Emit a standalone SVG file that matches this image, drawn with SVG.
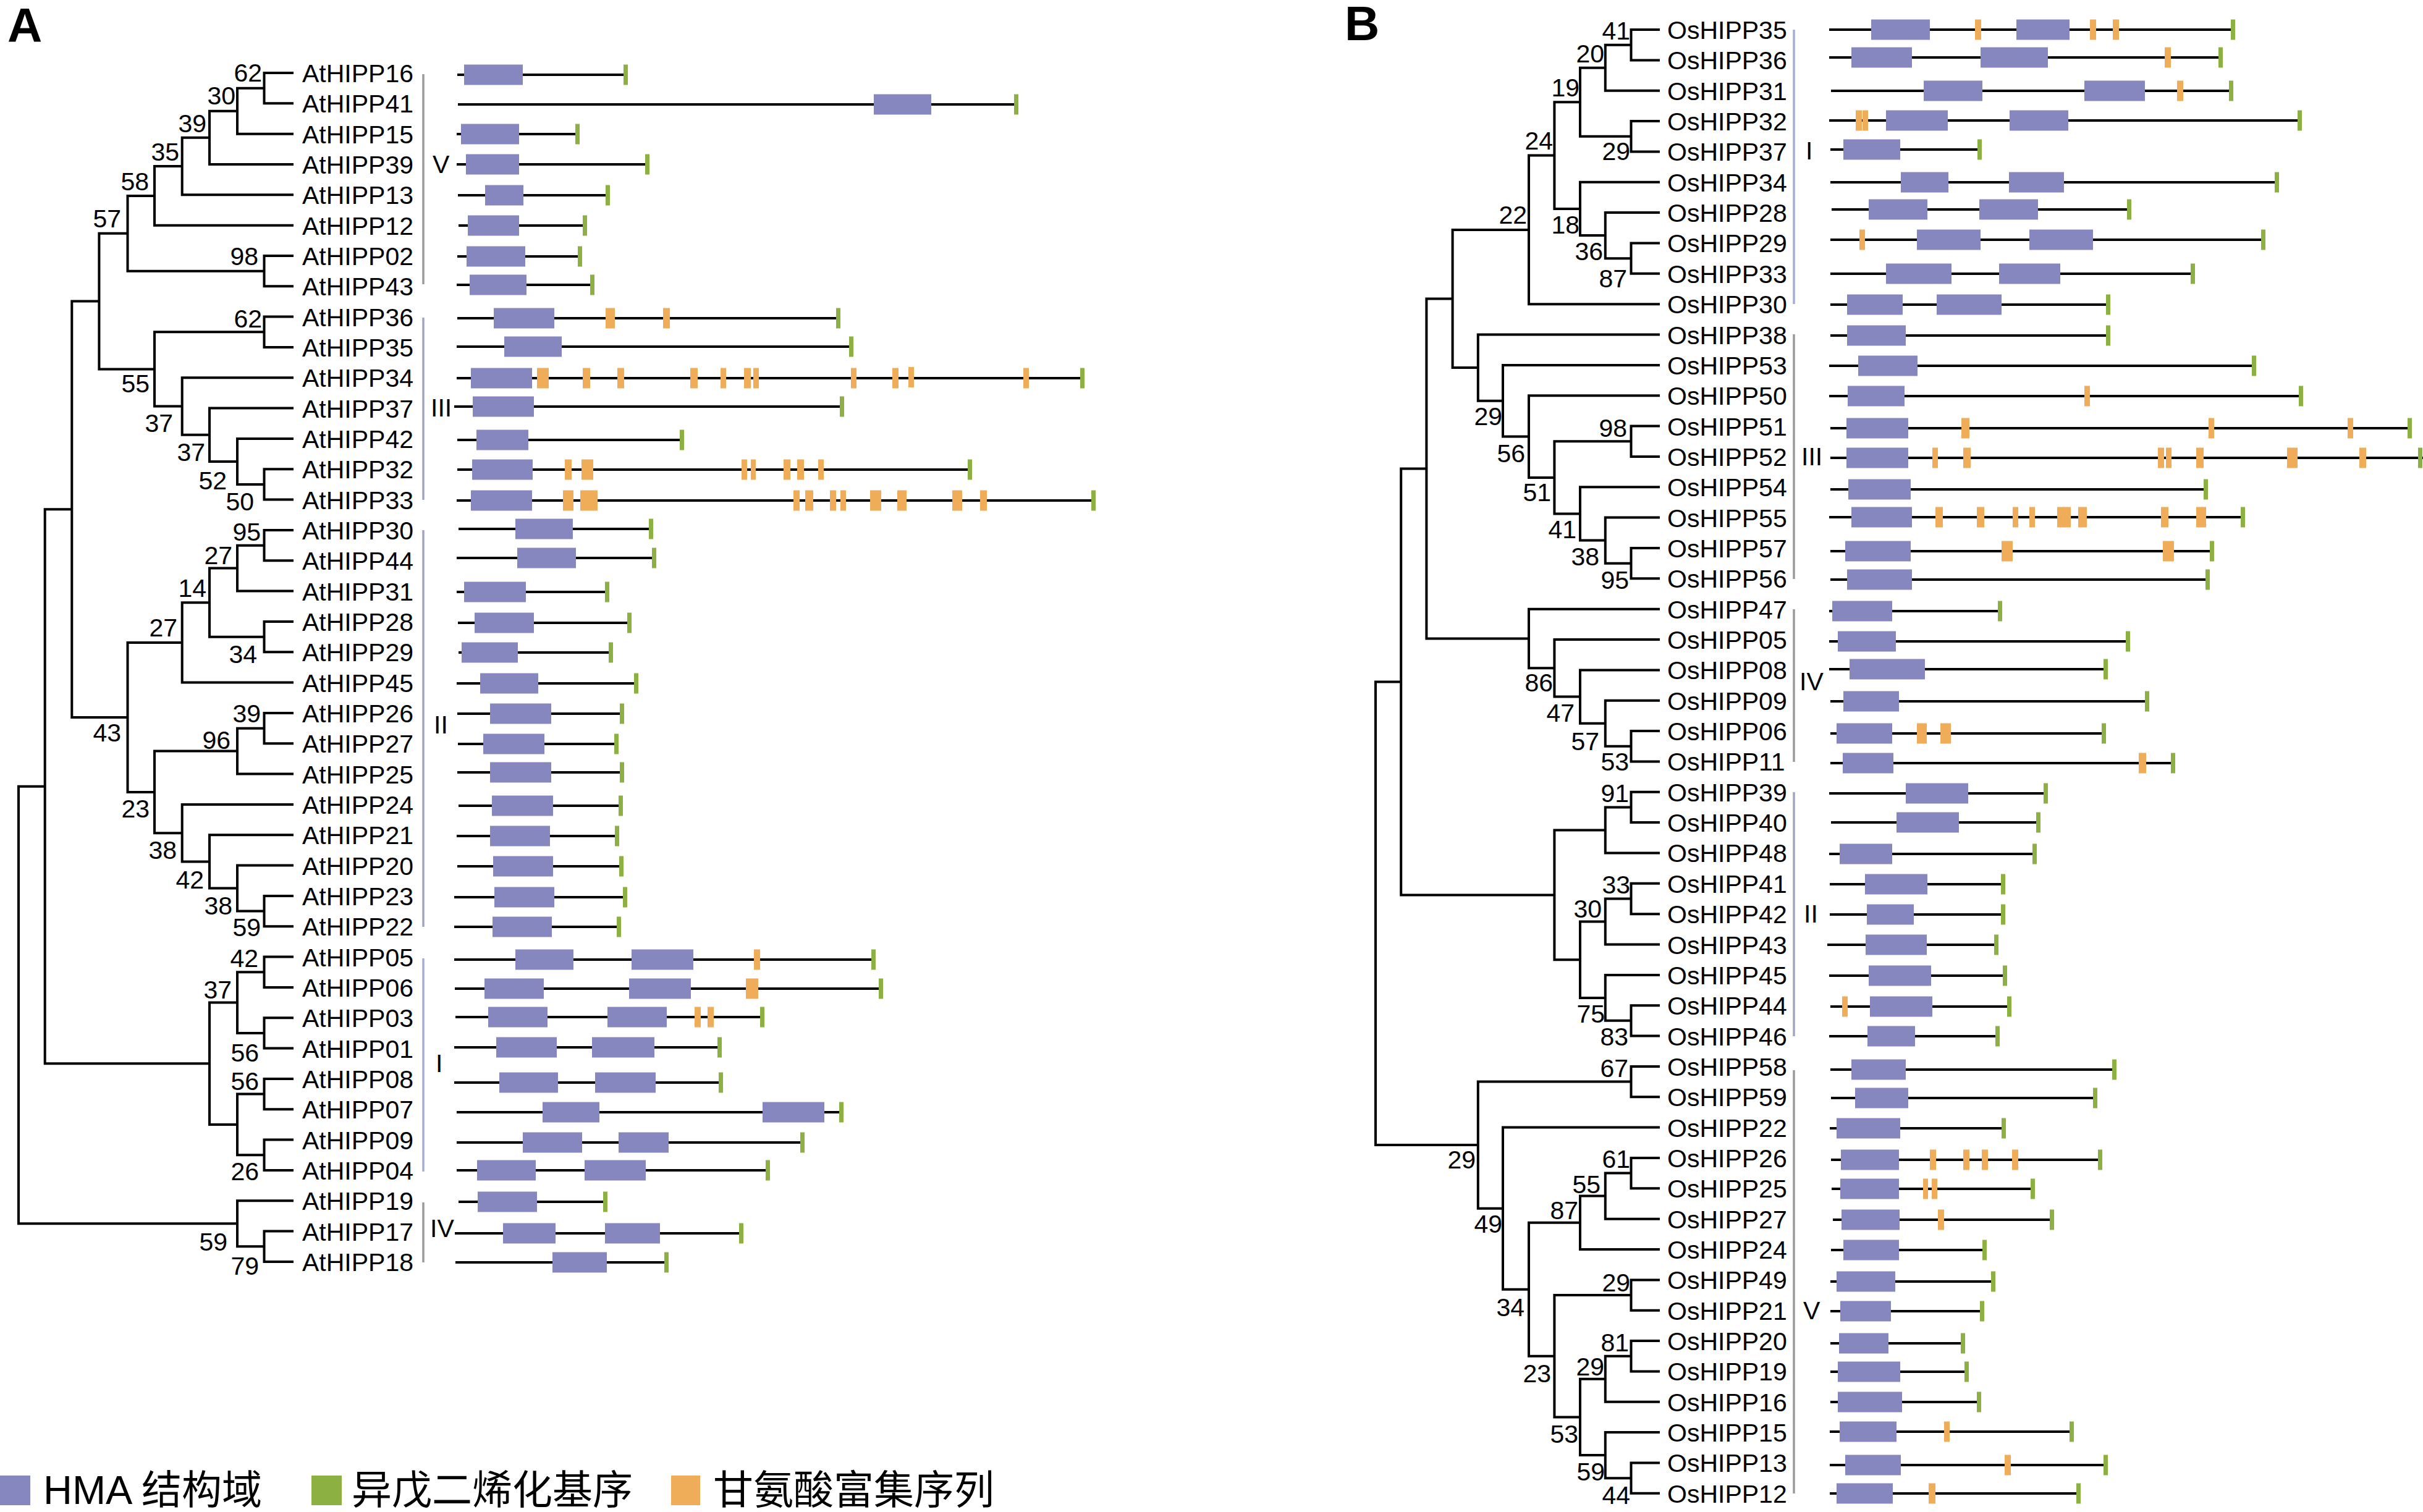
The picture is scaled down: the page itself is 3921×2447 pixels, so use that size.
<svg xmlns="http://www.w3.org/2000/svg" width="3921" height="2447" viewBox="0 0 3921 2447">
<style>
text{font-family:"Liberation Sans",Arial,"Noto Sans CJK SC",sans-serif;fill:#000}
.t{font-size:41px}
.b{font-size:41px;text-anchor:end}
.p{font-size:78px;font-weight:bold}
.lg{font-size:65px}
.br{fill:none;stroke:#000;stroke-width:4;stroke-linecap:square}
.l{fill:none;stroke:#000;stroke-width:4}
.h{fill:#8787bf}
.g{fill:#8db043}
.o{fill:#efac59}
.cg{stroke:#9a9a9e;stroke-width:3.5}
.cb{stroke:#a4acdc;stroke-width:3.5}
.cl{stroke:#a2a4c4;stroke-width:3.5}
</style>
<rect width="3921" height="2447" fill="#fff"/>
<text class="p" x="12" y="68">A</text>
<text class="p" x="2176" y="65">B</text>

<g id="connectors">
<path class="br" d="M473,118H427.5V167.3H473M427.5,142.7H384V216.7H473M384,179.7H339V266H473M339,222.8H294.7V315.3H473M294.7,269H250V364.7H473M473,414H427.5V463.3H473M250,316.9H206.5V438.7H427.5M473,512.6H427.5V562H473M473,759.3H427.5V808.6H473M473,710H384V784H427.5M473,660.6H339V747H384M473,611.3H294.7V703.8H339M427.5,537.3H250V657.6H294.7M206.5,377.8H160.4V597.4H250M473,858H427.5V907.3H473M427.5,882.7H384V956.6H473M473,1006H427.5V1055.3H473M384,919.6H339V1030.7H427.5M339,975.2H294.7V1104.6H473M473,1154H427.5V1203.3H473M427.5,1178.7H384V1252.6H473M473,1450H427.5V1499.2H473M473,1400.6H384V1474.6H427.5M473,1351.3H339V1437.6H384M473,1302H294.7V1394.5H339M384,1215.6H250V1348.2H294.7M294.7,1039.9H206.5V1281.9H250M160.4,487.6H116.3V1160.9H206.5M473,1548.6H427.5V1598H473M473,1647.2H427.5V1696.6H473M427.5,1573.3H384V1671.9H427.5M473,1746H427.5V1795.2H473M473,1844.6H427.5V1894H473M427.5,1770.6H384V1869.3H427.5M384,1622.6H339V1820H384M116.3,824.2H72.7V1721.3H339M473,1992.6H427.5V2042H473M473,1943.2H384V2017.3H427.5M72.7,1272.7H30V1980.2H384"/>
<path class="br" d="M2684,48H2639.5V97.4H2684M2639.5,72.7H2597.8V146.7H2684M2684,196H2639.5V245.4H2684M2597.8,109.7H2557V220.7H2639.5M2684,393.5H2639.5V442.8H2684M2684,344.1H2597.8V418.2H2639.5M2684,294.8H2557V381.1H2597.8M2557,165.2H2515.4V337.9H2557M2515.4,251.6H2474V492.2H2684M2684,689.6H2639.5V738.9H2684M2684,887H2639.5V936.3H2684M2684,837.6H2597.8V911.7H2639.5M2684,788.3H2557V874.6H2597.8M2639.5,714.3H2515.4V831.5H2557M2684,640.2H2474V772.9H2515.4M2684,590.9H2432V706.5H2474M2684,541.5H2391.8V648.7H2432M2474,371.9H2350.6V595.1H2391.8M2684,1183H2639.5V1232.4H2684M2684,1133.7H2597.8V1207.7H2639.5M2684,1084.4H2557V1170.7H2597.8M2684,1035H2515.4V1127.6H2557M2684,985.7H2474V1081.3H2515.4M2350.6,483.5H2308.4V1033.5H2474M2684,1281.8H2639.5V1331.1H2684M2639.5,1306.4H2597.8V1380.5H2684M2684,1429.8H2639.5V1479.2H2684M2639.5,1454.5H2597.8V1528.5H2684M2684,1627.2H2639.5V1676.6H2684M2684,1577.9H2597.8V1651.8H2639.5M2597.8,1491.5H2557V1614.9H2597.8M2597.8,1343.5H2515.4V1553.2H2557M2308.4,758.5H2267.2V1448.4H2515.4M2684,1725.9H2639.5V1775.3H2684M2684,1874H2639.5V1923.3H2684M2639.5,1898.5H2597.8V1972.7H2684M2597.8,1935.6H2557V2022H2684M2684,2071.4H2639.5V2120.7H2684M2684,2170.1H2639.5V2219.4H2684M2639.5,2194.7H2597.8V2268.8H2684M2684,2367.5H2639.5V2416.8H2684M2684,2318.1H2597.8V2392.2H2639.5M2597.8,2231.8H2557V2355.1H2597.8M2639.5,2095.9H2515.4V2293.5H2557M2557,1978.8H2474V2194.7H2515.4M2684,1824.6H2432V2086.8H2474M2639.5,1750.5H2391.8V1955.7H2432M2267.2,1103.5H2226V1853.1H2391.8"/>
</g>

<g id="bootstrap">
<text class="b" x="424" y="132">62</text><text class="b" x="381" y="169">30</text><text class="b" x="334" y="214">39</text><text class="b" x="290" y="260">35</text><text class="b" x="241" y="308">58</text><text class="b" x="196" y="368">57</text><text class="b" x="418" y="429">98</text><text class="b" x="424" y="530">62</text><text class="b" x="242" y="635">55</text><text class="b" x="280" y="699">37</text><text class="b" x="332" y="746">37</text><text class="b" x="367" y="792">52</text><text class="b" x="411" y="826">50</text>
<text class="b" x="422" y="875">95</text><text class="b" x="376" y="913">27</text><text class="b" x="334" y="966">14</text><text class="b" x="287" y="1030">27</text><text class="b" x="416" y="1073">34</text><text class="b" x="422" y="1169">39</text><text class="b" x="373" y="1212">96</text><text class="b" x="196" y="1200">43</text><text class="b" x="242" y="1323">23</text><text class="b" x="286" y="1390">38</text><text class="b" x="330" y="1438">42</text><text class="b" x="376" y="1480">38</text><text class="b" x="422" y="1515">59</text>
<text class="b" x="418" y="1565">42</text><text class="b" x="375" y="1616">37</text><text class="b" x="419" y="1718">56</text><text class="b" x="419" y="1764">56</text><text class="b" x="419" y="1910">26</text><text class="b" x="368" y="2024">59</text><text class="b" x="419" y="2063">79</text>
<text class="b" x="2638" y="64">41</text><text class="b" x="2596" y="101">20</text><text class="b" x="2556" y="156">19</text><text class="b" x="2513" y="242">24</text><text class="b" x="2638" y="259">29</text><text class="b" x="2471" y="362">22</text><text class="b" x="2556" y="378">18</text><text class="b" x="2594" y="421">36</text><text class="b" x="2633" y="465">87</text>
<text class="b" x="2431" y="688">29</text><text class="b" x="2633" y="707">98</text><text class="b" x="2468" y="748">56</text><text class="b" x="2510" y="811">51</text><text class="b" x="2551" y="871">41</text><text class="b" x="2588" y="915">38</text><text class="b" x="2636" y="953">95</text>
<text class="b" x="2513" y="1119">86</text><text class="b" x="2548" y="1168">47</text><text class="b" x="2588" y="1214">57</text><text class="b" x="2636" y="1247">53</text><text class="b" x="2636" y="1298">91</text><text class="b" x="2638" y="1446">33</text><text class="b" x="2592" y="1485">30</text><text class="b" x="2597" y="1655">75</text><text class="b" x="2635" y="1692">83</text>
<text class="b" x="2635" y="1743">67</text><text class="b" x="2388" y="1891">29</text><text class="b" x="2638" y="1890">61</text><text class="b" x="2590" y="1931">55</text><text class="b" x="2554" y="1973">87</text><text class="b" x="2431" y="1995">49</text><text class="b" x="2638" y="2090">29</text><text class="b" x="2467" y="2130">34</text><text class="b" x="2636" y="2187">81</text><text class="b" x="2596" y="2226">29</text><text class="b" x="2510" y="2237">23</text><text class="b" x="2554" y="2335">53</text><text class="b" x="2597" y="2396">59</text><text class="b" x="2638" y="2434">44</text>
</g>

<g id="clades">
<line class="cg" x1="685" y1="120" x2="685" y2="460"/><text class="t" x="700" y="280">V</text>
<line class="cl" x1="685" y1="514" x2="685" y2="809"/><text class="t" x="697" y="674">III</text>
<line class="cl" x1="685" y1="858" x2="685" y2="1500"/><text class="t" x="702" y="1187">II</text>
<line class="cb" x1="685" y1="1551" x2="685" y2="1896"/><text class="t" x="705" y="1735">I</text>
<line class="cg" x1="685" y1="1946" x2="685" y2="2043"/><text class="t" x="696" y="2002">IV</text>
<line class="cb" x1="2903" y1="48" x2="2903" y2="492"/><text class="t" x="2922" y="258">I</text>
<line class="cg" x1="2903" y1="541" x2="2903" y2="937"/><text class="t" x="2915" y="753">III</text>
<line class="cg" x1="2903" y1="986" x2="2903" y2="1233"/><text class="t" x="2912" y="1117">IV</text>
<line class="cl" x1="2903" y1="1282" x2="2903" y2="1677"/><text class="t" x="2919" y="1493">II</text>
<line class="cg" x1="2903" y1="1732" x2="2903" y2="2417"/><text class="t" x="2918" y="2135">V</text>
</g>

<g id="AtHIPP16"><text class="t" x="489" y="133">AtHIPP16</text><g transform="translate(0,121)"><path class="l" d="M740 0H1012"/><rect class="h" x="751" y="-16.5" width="95" height="33"/><rect class="g" x="1009" y="-16.5" width="7" height="33"/></g></g>
<g id="AtHIPP41"><text class="t" x="489" y="182">AtHIPP41</text><g transform="translate(0,169)"><path class="l" d="M741 0H1645"/><rect class="h" x="1414" y="-16.5" width="93" height="33"/><rect class="g" x="1641" y="-16.5" width="7" height="33"/></g></g>
<g id="AtHIPP15"><text class="t" x="489" y="232">AtHIPP15</text><g transform="translate(0,217)"><path class="l" d="M739 0H935"/><rect class="h" x="746" y="-16.5" width="94" height="33"/><rect class="g" x="931" y="-16.5" width="7" height="33"/></g></g>
<g id="AtHIPP39"><text class="t" x="489" y="281">AtHIPP39</text><g transform="translate(0,266)"><path class="l" d="M739 0H1047"/><rect class="h" x="754" y="-16.5" width="86" height="33"/><rect class="g" x="1044" y="-16.5" width="7" height="33"/></g></g>
<g id="AtHIPP13"><text class="t" x="489" y="330">AtHIPP13</text><g transform="translate(0,316)"><path class="l" d="M741 0H984"/><rect class="h" x="785" y="-16.5" width="62" height="33"/><rect class="g" x="980" y="-16.5" width="7" height="33"/></g></g>
<g id="AtHIPP12"><text class="t" x="489" y="380">AtHIPP12</text><g transform="translate(0,365)"><path class="l" d="M742 0H947"/><rect class="h" x="757" y="-16.5" width="83" height="33"/><rect class="g" x="943" y="-16.5" width="7" height="33"/></g></g>
<g id="AtHIPP02"><text class="t" x="489" y="429">AtHIPP02</text><g transform="translate(0,415)"><path class="l" d="M740 0H938"/><rect class="h" x="755" y="-16.5" width="95" height="33"/><rect class="g" x="935" y="-16.5" width="7" height="33"/></g></g>
<g id="AtHIPP43"><text class="t" x="489" y="478">AtHIPP43</text><g transform="translate(0,461)"><path class="l" d="M739 0H958"/><rect class="h" x="760" y="-16.5" width="92" height="33"/><rect class="g" x="955" y="-16.5" width="7" height="33"/></g></g>
<g id="AtHIPP36"><text class="t" x="489" y="528">AtHIPP36</text><g transform="translate(0,515)"><path class="l" d="M740 0H1356"/><rect class="h" x="799" y="-16.5" width="98" height="33"/><rect class="o" x="980" y="-16.5" width="15" height="33"/><rect class="o" x="1073" y="-16.5" width="11" height="33"/><rect class="g" x="1353" y="-16.5" width="7" height="33"/></g></g>
<g id="AtHIPP35"><text class="t" x="489" y="577">AtHIPP35</text><g transform="translate(0,561)"><path class="l" d="M739 0H1378"/><rect class="h" x="816" y="-16.5" width="93" height="33"/><rect class="g" x="1374" y="-16.5" width="7" height="33"/></g></g>
<g id="AtHIPP34"><text class="t" x="489" y="626">AtHIPP34</text><g transform="translate(0,612)"><path class="l" d="M739 0H1752"/><rect class="h" x="762" y="-16.5" width="99" height="33"/><rect class="o" x="869" y="-16.5" width="19" height="33"/><rect class="o" x="943" y="-16.5" width="12" height="33"/><rect class="o" x="999" y="-16.5" width="11" height="33"/><rect class="o" x="1117" y="-16.5" width="12" height="33"/><rect class="o" x="1166" y="-16.5" width="9" height="33"/><rect class="o" x="1204" y="-16.5" width="11" height="33"/><rect class="o" x="1219" y="-16.5" width="9" height="33"/><rect class="o" x="1377" y="-16.5" width="9" height="33"/><rect class="o" x="1444" y="-16.5" width="10" height="33"/><rect class="o" x="1470" y="-18" width="9" height="33"/><rect class="o" x="1656" y="-16.5" width="9" height="33"/><rect class="g" x="1748" y="-16.5" width="7" height="33"/></g></g>
<g id="AtHIPP37"><text class="t" x="489" y="676">AtHIPP37</text><g transform="translate(0,658)"><path class="l" d="M735 0H1363"/><rect class="h" x="765" y="-16.5" width="99" height="33"/><rect class="g" x="1359" y="-16.5" width="7" height="33"/></g></g>
<g id="AtHIPP42"><text class="t" x="489" y="725">AtHIPP42</text><g transform="translate(0,712)"><path class="l" d="M740 0H1104"/><rect class="h" x="771" y="-16.5" width="84" height="33"/><rect class="g" x="1100" y="-16.5" width="7" height="33"/></g></g>
<g id="AtHIPP32"><text class="t" x="489" y="774">AtHIPP32</text><g transform="translate(0,760)"><path class="l" d="M740 0H1569"/><rect class="h" x="764" y="-16.5" width="98" height="33"/><rect class="o" x="914" y="-16.5" width="11" height="33"/><rect class="o" x="941" y="-16.5" width="19" height="33"/><rect class="o" x="1200" y="-16.5" width="9" height="33"/><rect class="o" x="1215" y="-16.5" width="8" height="33"/><rect class="o" x="1268" y="-16.5" width="11" height="33"/><rect class="o" x="1290" y="-16.5" width="11" height="33"/><rect class="o" x="1324" y="-16.5" width="9" height="33"/><rect class="g" x="1566" y="-16.5" width="7" height="33"/></g></g>
<g id="AtHIPP33"><text class="t" x="489" y="824">AtHIPP33</text><g transform="translate(0,810)"><path class="l" d="M739 0H1769"/><rect class="h" x="762" y="-16.5" width="99" height="33"/><rect class="o" x="911" y="-16.5" width="17" height="33"/><rect class="o" x="939" y="-16.5" width="28" height="33"/><rect class="o" x="1284" y="-16.5" width="10" height="33"/><rect class="o" x="1303" y="-16.5" width="13" height="33"/><rect class="o" x="1343" y="-16.5" width="10" height="33"/><rect class="o" x="1360" y="-16.5" width="9" height="33"/><rect class="o" x="1408" y="-16.5" width="18" height="33"/><rect class="o" x="1452" y="-16.5" width="15" height="33"/><rect class="o" x="1541" y="-16.5" width="16" height="33"/><rect class="o" x="1586" y="-16.5" width="11" height="33"/><rect class="g" x="1766" y="-16.5" width="7" height="33"/></g></g>
<g id="AtHIPP30"><text class="t" x="489" y="873">AtHIPP30</text><g transform="translate(0,856)"><path class="l" d="M742 0H1054"/><rect class="h" x="834" y="-16.5" width="93" height="33"/><rect class="g" x="1050" y="-16.5" width="7" height="33"/></g></g>
<g id="AtHIPP44"><text class="t" x="489" y="922">AtHIPP44</text><g transform="translate(0,903)"><path class="l" d="M739 0H1059"/><rect class="h" x="837" y="-16.5" width="95" height="33"/><rect class="g" x="1055" y="-16.5" width="7" height="33"/></g></g>
<g id="AtHIPP31"><text class="t" x="489" y="972">AtHIPP31</text><g transform="translate(0,958)"><path class="l" d="M739 0H983"/><rect class="h" x="751" y="-16.5" width="100" height="33"/><rect class="g" x="979" y="-16.5" width="7" height="33"/></g></g>
<g id="AtHIPP28"><text class="t" x="489" y="1021">AtHIPP28</text><g transform="translate(0,1008)"><path class="l" d="M741 0H1019"/><rect class="h" x="768" y="-16.5" width="96" height="33"/><rect class="g" x="1015" y="-16.5" width="7" height="33"/></g></g>
<g id="AtHIPP29"><text class="t" x="489" y="1070">AtHIPP29</text><g transform="translate(0,1056)"><path class="l" d="M742 0H988"/><rect class="h" x="747" y="-16.5" width="91" height="33"/><rect class="g" x="985" y="-16.5" width="7" height="33"/></g></g>
<g id="AtHIPP45"><text class="t" x="489" y="1120">AtHIPP45</text><g transform="translate(0,1106)"><path class="l" d="M739 0H1029"/><rect class="h" x="777" y="-16.5" width="94" height="33"/><rect class="g" x="1026" y="-16.5" width="7" height="33"/></g></g>
<g id="AtHIPP26"><text class="t" x="489" y="1169">AtHIPP26</text><g transform="translate(0,1155)"><path class="l" d="M740 0H1006"/><rect class="h" x="793" y="-16.5" width="99" height="33"/><rect class="g" x="1003" y="-16.5" width="7" height="33"/></g></g>
<g id="AtHIPP27"><text class="t" x="489" y="1218">AtHIPP27</text><g transform="translate(0,1204)"><path class="l" d="M741 0H997"/><rect class="h" x="782" y="-16.5" width="99" height="33"/><rect class="g" x="994" y="-16.5" width="7" height="33"/></g></g>
<g id="AtHIPP25"><text class="t" x="489" y="1268">AtHIPP25</text><g transform="translate(0,1250)"><path class="l" d="M740 0H1006"/><rect class="h" x="793" y="-16.5" width="99" height="33"/><rect class="g" x="1003" y="-16.5" width="7" height="33"/></g></g>
<g id="AtHIPP24"><text class="t" x="489" y="1317">AtHIPP24</text><g transform="translate(0,1304)"><path class="l" d="M742 0H1004"/><rect class="h" x="796" y="-16.5" width="99" height="33"/><rect class="g" x="1001" y="-16.5" width="7" height="33"/></g></g>
<g id="AtHIPP21"><text class="t" x="489" y="1366">AtHIPP21</text><g transform="translate(0,1353)"><path class="l" d="M739 0H998"/><rect class="h" x="793" y="-16.5" width="97" height="33"/><rect class="g" x="995" y="-16.5" width="7" height="33"/></g></g>
<g id="AtHIPP20"><text class="t" x="489" y="1416">AtHIPP20</text><g transform="translate(0,1402)"><path class="l" d="M740 0H1005"/><rect class="h" x="798" y="-16.5" width="97" height="33"/><rect class="g" x="1002" y="-16.5" width="7" height="33"/></g></g>
<g id="AtHIPP23"><text class="t" x="489" y="1465">AtHIPP23</text><g transform="translate(0,1452)"><path class="l" d="M735 0H1011"/><rect class="h" x="800" y="-16.5" width="97" height="33"/><rect class="g" x="1008" y="-16.5" width="7" height="33"/></g></g>
<g id="AtHIPP22"><text class="t" x="489" y="1514">AtHIPP22</text><g transform="translate(0,1500)"><path class="l" d="M735 0H1001"/><rect class="h" x="797" y="-16.5" width="96" height="33"/><rect class="g" x="998" y="-16.5" width="7" height="33"/></g></g>
<g id="AtHIPP05"><text class="t" x="489" y="1564">AtHIPP05</text><g transform="translate(0,1553)"><path class="l" d="M735 0H1413"/><rect class="h" x="834" y="-16.5" width="94" height="33"/><rect class="h" x="1022" y="-16.5" width="100" height="33"/><rect class="o" x="1220" y="-16.5" width="10" height="33"/><rect class="g" x="1410" y="-16.5" width="7" height="33"/></g></g>
<g id="AtHIPP06"><text class="t" x="489" y="1613">AtHIPP06</text><g transform="translate(0,1600)"><path class="l" d="M736 0H1425"/><rect class="h" x="784" y="-16.5" width="96" height="33"/><rect class="h" x="1018" y="-16.5" width="100" height="33"/><rect class="o" x="1207" y="-16.5" width="20" height="33"/><rect class="g" x="1422" y="-16.5" width="7" height="33"/></g></g>
<g id="AtHIPP03"><text class="t" x="489" y="1662">AtHIPP03</text><g transform="translate(0,1646)"><path class="l" d="M737 0H1233"/><rect class="h" x="790" y="-16.5" width="96" height="33"/><rect class="h" x="983" y="-16.5" width="96" height="33"/><rect class="o" x="1124" y="-16.5" width="10" height="33"/><rect class="o" x="1145" y="-16.5" width="10" height="33"/><rect class="g" x="1230" y="-16.5" width="7" height="33"/></g></g>
<g id="AtHIPP01"><text class="t" x="489" y="1712">AtHIPP01</text><g transform="translate(0,1695)"><path class="l" d="M735 0H1164"/><rect class="h" x="803" y="-16.5" width="98" height="33"/><rect class="h" x="958" y="-16.5" width="101" height="33"/><rect class="g" x="1161" y="-16.5" width="7" height="33"/></g></g>
<g id="AtHIPP08"><text class="t" x="489" y="1761">AtHIPP08</text><g transform="translate(0,1752)"><path class="l" d="M735 0H1166"/><rect class="h" x="808" y="-16.5" width="95" height="33"/><rect class="h" x="963" y="-16.5" width="98" height="33"/><rect class="g" x="1163" y="-16.5" width="7" height="33"/></g></g>
<g id="AtHIPP07"><text class="t" x="489" y="1810">AtHIPP07</text><g transform="translate(0,1800)"><path class="l" d="M739 0H1361"/><rect class="h" x="878" y="-16.5" width="92" height="33"/><rect class="h" x="1234" y="-16.5" width="100" height="33"/><rect class="g" x="1358" y="-16.5" width="7" height="33"/></g></g>
<g id="AtHIPP09"><text class="t" x="489" y="1860">AtHIPP09</text><g transform="translate(0,1849)"><path class="l" d="M739 0H1298"/><rect class="h" x="846" y="-16.5" width="96" height="33"/><rect class="h" x="1001" y="-16.5" width="81" height="33"/><rect class="g" x="1295" y="-16.5" width="7" height="33"/></g></g>
<g id="AtHIPP04"><text class="t" x="489" y="1909">AtHIPP04</text><g transform="translate(0,1894)"><path class="l" d="M739 0H1242"/><rect class="h" x="772" y="-16.5" width="95" height="33"/><rect class="h" x="946" y="-16.5" width="99" height="33"/><rect class="g" x="1239" y="-16.5" width="7" height="33"/></g></g>
<g id="AtHIPP19"><text class="t" x="489" y="1958">AtHIPP19</text><g transform="translate(0,1945)"><path class="l" d="M742 0H979"/><rect class="h" x="773" y="-16.5" width="96" height="33"/><rect class="g" x="976" y="-16.5" width="7" height="33"/></g></g>
<g id="AtHIPP17"><text class="t" x="489" y="2008">AtHIPP17</text><g transform="translate(0,1996)"><path class="l" d="M736 0H1199"/><rect class="h" x="814" y="-16.5" width="85" height="33"/><rect class="h" x="979" y="-16.5" width="89" height="33"/><rect class="g" x="1196" y="-16.5" width="7" height="33"/></g></g>
<g id="AtHIPP18"><text class="t" x="489" y="2057">AtHIPP18</text><g transform="translate(0,2043)"><path class="l" d="M737 0H1078"/><rect class="h" x="894" y="-16.5" width="88" height="33"/><rect class="g" x="1075" y="-16.5" width="7" height="33"/></g></g>

<g id="OsHIPP35"><text class="t" x="2698" y="63">OsHIPP35</text><g transform="translate(0,48)"><path class="l" d="M2960 0H3613"/><rect class="h" x="3028" y="-16.5" width="95" height="33"/><rect class="o" x="3196" y="-16.5" width="10" height="33"/><rect class="h" x="3263" y="-16.5" width="86" height="33"/><rect class="o" x="3382" y="-16.5" width="10" height="33"/><rect class="o" x="3419" y="-16.5" width="10" height="33"/><rect class="g" x="3610" y="-16.5" width="7" height="33"/></g></g>
<g id="OsHIPP36"><text class="t" x="2698" y="112">OsHIPP36</text><g transform="translate(0,93)"><path class="l" d="M2960 0H3593"/><rect class="h" x="2996" y="-16.5" width="98" height="33"/><rect class="h" x="3205" y="-16.5" width="109" height="33"/><rect class="o" x="3503" y="-16.5" width="10" height="33"/><rect class="g" x="3590" y="-16.5" width="7" height="33"/></g></g>
<g id="OsHIPP31"><text class="t" x="2698" y="162">OsHIPP31</text><g transform="translate(0,147)"><path class="l" d="M2963 0H3610"/><rect class="h" x="3113" y="-16.5" width="95" height="33"/><rect class="h" x="3373" y="-16.5" width="98" height="33"/><rect class="o" x="3523" y="-16.5" width="10" height="33"/><rect class="g" x="3607" y="-16.5" width="7" height="33"/></g></g>
<g id="OsHIPP32"><text class="t" x="2698" y="211">OsHIPP32</text><g transform="translate(0,195)"><path class="l" d="M2960 0H3721"/><rect class="o" x="3003" y="-16.5" width="10" height="33"/><rect class="o" x="3014" y="-16.5" width="9" height="33"/><rect class="h" x="3052" y="-16.5" width="100" height="33"/><rect class="h" x="3252" y="-16.5" width="95" height="33"/><rect class="g" x="3718" y="-16.5" width="7" height="33"/></g></g>
<g id="OsHIPP37"><text class="t" x="2698" y="260">OsHIPP37</text><g transform="translate(0,242)"><path class="l" d="M2962 0H3203"/><rect class="h" x="2983" y="-16.5" width="92" height="33"/><rect class="g" x="3200" y="-16.5" width="7" height="33"/></g></g>
<g id="OsHIPP34"><text class="t" x="2698" y="310">OsHIPP34</text><g transform="translate(0,295)"><path class="l" d="M2962 0H3684"/><rect class="h" x="3076" y="-16.5" width="77" height="33"/><rect class="h" x="3251" y="-16.5" width="89" height="33"/><rect class="g" x="3681" y="-16.5" width="7" height="33"/></g></g>
<g id="OsHIPP28"><text class="t" x="2698" y="359">OsHIPP28</text><g transform="translate(0,339)"><path class="l" d="M2964 0H3445"/><rect class="h" x="3024" y="-16.5" width="95" height="33"/><rect class="h" x="3203" y="-16.5" width="95" height="33"/><rect class="g" x="3442" y="-16.5" width="7" height="33"/></g></g>
<g id="OsHIPP29"><text class="t" x="2698" y="408">OsHIPP29</text><g transform="translate(0,388)"><path class="l" d="M2962 0H3662"/><rect class="o" x="3009" y="-16.5" width="9" height="33"/><rect class="h" x="3102" y="-16.5" width="103" height="33"/><rect class="h" x="3284" y="-16.5" width="103" height="33"/><rect class="g" x="3659" y="-16.5" width="7" height="33"/></g></g>
<g id="OsHIPP33"><text class="t" x="2698" y="458">OsHIPP33</text><g transform="translate(0,443)"><path class="l" d="M2962 0H3548"/><rect class="h" x="3052" y="-16.5" width="106" height="33"/><rect class="h" x="3235" y="-16.5" width="99" height="33"/><rect class="g" x="3545" y="-16.5" width="7" height="33"/></g></g>
<g id="OsHIPP30"><text class="t" x="2698" y="507">OsHIPP30</text><g transform="translate(0,493)"><path class="l" d="M2962 0H3411"/><rect class="h" x="2989" y="-16.5" width="90" height="33"/><rect class="h" x="3134" y="-16.5" width="105" height="33"/><rect class="g" x="3408" y="-16.5" width="7" height="33"/></g></g>
<g id="OsHIPP38"><text class="t" x="2698" y="557">OsHIPP38</text><g transform="translate(0,543)"><path class="l" d="M2962 0H3411"/><rect class="h" x="2989" y="-16.5" width="95" height="33"/><rect class="g" x="3408" y="-16.5" width="7" height="33"/></g></g>
<g id="OsHIPP53"><text class="t" x="2698" y="606">OsHIPP53</text><g transform="translate(0,592)"><path class="l" d="M2960 0H3647"/><rect class="h" x="3007" y="-16.5" width="96" height="33"/><rect class="g" x="3644" y="-16.5" width="7" height="33"/></g></g>
<g id="OsHIPP50"><text class="t" x="2698" y="655">OsHIPP50</text><g transform="translate(0,641)"><path class="l" d="M2960 0H3723"/><rect class="h" x="2990" y="-16.5" width="92" height="33"/><rect class="o" x="3373" y="-16.5" width="9" height="33"/><rect class="g" x="3720" y="-16.5" width="7" height="33"/></g></g>
<g id="OsHIPP51"><text class="t" x="2698" y="705">OsHIPP51</text><g transform="translate(0,693)"><path class="l" d="M2962 0H3899"/><rect class="h" x="2988" y="-16.5" width="100" height="33"/><rect class="o" x="3174" y="-16.5" width="13" height="33"/><rect class="o" x="3574" y="-16.5" width="9" height="33"/><rect class="o" x="3799" y="-16.5" width="9" height="33"/><rect class="g" x="3896" y="-16.5" width="7" height="33"/></g></g>
<g id="OsHIPP52"><text class="t" x="2698" y="754">OsHIPP52</text><g transform="translate(0,741)"><path class="l" d="M2962 0H3921"/><rect class="h" x="2988" y="-16.5" width="100" height="33"/><rect class="o" x="3127" y="-16.5" width="9" height="33"/><rect class="o" x="3177" y="-16.5" width="12" height="33"/><rect class="o" x="3492" y="-16.5" width="10" height="33"/><rect class="o" x="3505" y="-16.5" width="9" height="33"/><rect class="o" x="3554" y="-16.5" width="12" height="33"/><rect class="o" x="3701" y="-16.5" width="17" height="33"/><rect class="o" x="3818" y="-16.5" width="11" height="33"/><rect class="g" x="3913" y="-16.5" width="7" height="33"/></g></g>
<g id="OsHIPP54"><text class="t" x="2698" y="803">OsHIPP54</text><g transform="translate(0,792)"><path class="l" d="M2962 0H3569"/><rect class="h" x="2991" y="-16.5" width="101" height="33"/><rect class="g" x="3566" y="-16.5" width="7" height="33"/></g></g>
<g id="OsHIPP55"><text class="t" x="2698" y="853">OsHIPP55</text><g transform="translate(0,837)"><path class="l" d="M2960 0H3629"/><rect class="h" x="2996" y="-16.5" width="98" height="33"/><rect class="o" x="3132" y="-16.5" width="12" height="33"/><rect class="o" x="3199" y="-16.5" width="12" height="33"/><rect class="o" x="3257" y="-16.5" width="9" height="33"/><rect class="o" x="3284" y="-16.5" width="9" height="33"/><rect class="o" x="3329" y="-16.5" width="22" height="33"/><rect class="o" x="3363" y="-16.5" width="14" height="33"/><rect class="o" x="3497" y="-16.5" width="12" height="33"/><rect class="o" x="3554" y="-16.5" width="16" height="33"/><rect class="g" x="3626" y="-16.5" width="7" height="33"/></g></g>
<g id="OsHIPP57"><text class="t" x="2698" y="902">OsHIPP57</text><g transform="translate(0,892)"><path class="l" d="M2962 0H3580"/><rect class="h" x="2986" y="-16.5" width="106" height="33"/><rect class="o" x="3239" y="-16.5" width="18" height="33"/><rect class="o" x="3500" y="-16.5" width="18" height="33"/><rect class="g" x="3576" y="-16.5" width="7" height="33"/></g></g>
<g id="OsHIPP56"><text class="t" x="2698" y="951">OsHIPP56</text><g transform="translate(0,938)"><path class="l" d="M2962 0H3572"/><rect class="h" x="2989" y="-16.5" width="105" height="33"/><rect class="g" x="3569" y="-16.5" width="7" height="33"/></g></g>
<g id="OsHIPP47"><text class="t" x="2698" y="1001">OsHIPP47</text><g transform="translate(0,989)"><path class="l" d="M2960 0H3237"/><rect class="h" x="2965" y="-16.5" width="97" height="33"/><rect class="g" x="3233" y="-16.5" width="7" height="33"/></g></g>
<g id="OsHIPP05"><text class="t" x="2698" y="1050">OsHIPP05</text><g transform="translate(0,1038)"><path class="l" d="M2960 0H3443"/><rect class="h" x="2974" y="-16.5" width="94" height="33"/><rect class="g" x="3440" y="-16.5" width="7" height="33"/></g></g>
<g id="OsHIPP08"><text class="t" x="2698" y="1099">OsHIPP08</text><g transform="translate(0,1083)"><path class="l" d="M2960 0H3407"/><rect class="h" x="2993" y="-16.5" width="122" height="33"/><rect class="g" x="3404" y="-16.5" width="7" height="33"/></g></g>
<g id="OsHIPP09"><text class="t" x="2698" y="1149">OsHIPP09</text><g transform="translate(0,1135)"><path class="l" d="M2962 0H3474"/><rect class="h" x="2983" y="-16.5" width="90" height="33"/><rect class="g" x="3471" y="-16.5" width="7" height="33"/></g></g>
<g id="OsHIPP06"><text class="t" x="2698" y="1198">OsHIPP06</text><g transform="translate(0,1187)"><path class="l" d="M2962 0H3405"/><rect class="h" x="2972" y="-16.5" width="90" height="33"/><rect class="o" x="3102" y="-16.5" width="16" height="33"/><rect class="o" x="3140" y="-16.5" width="17" height="33"/><rect class="g" x="3401" y="-16.5" width="7" height="33"/></g></g>
<g id="OsHIPP11"><text class="t" x="2698" y="1247">OsHIPP11</text><g transform="translate(0,1235)"><path class="l" d="M2962 0H3516"/><rect class="h" x="2982" y="-16.5" width="82" height="33"/><rect class="o" x="3461" y="-16.5" width="12" height="33"/><rect class="g" x="3513" y="-16.5" width="7" height="33"/></g></g>
<g id="OsHIPP39"><text class="t" x="2698" y="1297">OsHIPP39</text><g transform="translate(0,1284)"><path class="l" d="M2960 0H3310"/><rect class="h" x="3084" y="-16.5" width="101" height="33"/><rect class="g" x="3307" y="-16.5" width="7" height="33"/></g></g>
<g id="OsHIPP40"><text class="t" x="2698" y="1346">OsHIPP40</text><g transform="translate(0,1331)"><path class="l" d="M2963 0H3298"/><rect class="h" x="3069" y="-16.5" width="101" height="33"/><rect class="g" x="3295" y="-16.5" width="7" height="33"/></g></g>
<g id="OsHIPP48"><text class="t" x="2698" y="1395">OsHIPP48</text><g transform="translate(0,1382)"><path class="l" d="M2960 0H3292"/><rect class="h" x="2977" y="-16.5" width="85" height="33"/><rect class="g" x="3289" y="-16.5" width="7" height="33"/></g></g>
<g id="OsHIPP41"><text class="t" x="2698" y="1445">OsHIPP41</text><g transform="translate(0,1431)"><path class="l" d="M2961 0H3241"/><rect class="h" x="3018" y="-16.5" width="101" height="33"/><rect class="g" x="3238" y="-16.5" width="7" height="33"/></g></g>
<g id="OsHIPP42"><text class="t" x="2698" y="1494">OsHIPP42</text><g transform="translate(0,1480)"><path class="l" d="M2961 0H3241"/><rect class="h" x="3021" y="-16.5" width="76" height="33"/><rect class="g" x="3238" y="-16.5" width="7" height="33"/></g></g>
<g id="OsHIPP43"><text class="t" x="2698" y="1544">OsHIPP43</text><g transform="translate(0,1529)"><path class="l" d="M2957 0H3230"/><rect class="h" x="3019" y="-16.5" width="99" height="33"/><rect class="g" x="3227" y="-16.5" width="7" height="33"/></g></g>
<g id="OsHIPP45"><text class="t" x="2698" y="1593">OsHIPP45</text><g transform="translate(0,1579)"><path class="l" d="M2960 0H3244"/><rect class="h" x="3024" y="-16.5" width="101" height="33"/><rect class="g" x="3241" y="-16.5" width="7" height="33"/></g></g>
<g id="OsHIPP44"><text class="t" x="2698" y="1642">OsHIPP44</text><g transform="translate(0,1629)"><path class="l" d="M2962 0H3251"/><rect class="o" x="2981" y="-16.5" width="9" height="33"/><rect class="h" x="3026" y="-16.5" width="101" height="33"/><rect class="g" x="3248" y="-16.5" width="7" height="33"/></g></g>
<g id="OsHIPP46"><text class="t" x="2698" y="1692">OsHIPP46</text><g transform="translate(0,1677)"><path class="l" d="M2960 0H3232"/><rect class="h" x="3022" y="-16.5" width="77" height="33"/><rect class="g" x="3229" y="-16.5" width="7" height="33"/></g></g>
<g id="OsHIPP58"><text class="t" x="2698" y="1741">OsHIPP58</text><g transform="translate(0,1731)"><path class="l" d="M2962 0H3421"/><rect class="h" x="2996" y="-16.5" width="88" height="33"/><rect class="g" x="3418" y="-16.5" width="7" height="33"/></g></g>
<g id="OsHIPP59"><text class="t" x="2698" y="1790">OsHIPP59</text><g transform="translate(0,1777)"><path class="l" d="M2963 0H3390"/><rect class="h" x="3002" y="-16.5" width="86" height="33"/><rect class="g" x="3387" y="-16.5" width="7" height="33"/></g></g>
<g id="OsHIPP22"><text class="t" x="2698" y="1840">OsHIPP22</text><g transform="translate(0,1826)"><path class="l" d="M2961 0H3242"/><rect class="h" x="2972" y="-16.5" width="103" height="33"/><rect class="g" x="3239" y="-16.5" width="7" height="33"/></g></g>
<g id="OsHIPP26"><text class="t" x="2698" y="1889">OsHIPP26</text><g transform="translate(0,1877)"><path class="l" d="M2963 0H3398"/><rect class="h" x="2979" y="-16.5" width="94" height="33"/><rect class="o" x="3123" y="-16.5" width="10" height="33"/><rect class="o" x="3177" y="-16.5" width="10" height="33"/><rect class="o" x="3207" y="-16.5" width="10" height="33"/><rect class="o" x="3256" y="-16.5" width="10" height="33"/><rect class="g" x="3395" y="-16.5" width="7" height="33"/></g></g>
<g id="OsHIPP25"><text class="t" x="2698" y="1938">OsHIPP25</text><g transform="translate(0,1924)"><path class="l" d="M2964 0H3289"/><rect class="h" x="2978" y="-16.5" width="95" height="33"/><rect class="o" x="3112" y="-16.5" width="8" height="33"/><rect class="o" x="3126" y="-16.5" width="9" height="33"/><rect class="g" x="3286" y="-16.5" width="7" height="33"/></g></g>
<g id="OsHIPP27"><text class="t" x="2698" y="1988">OsHIPP27</text><g transform="translate(0,1974)"><path class="l" d="M2966 0H3320"/><rect class="h" x="2980" y="-16.5" width="94" height="33"/><rect class="o" x="3136" y="-16.5" width="10" height="33"/><rect class="g" x="3317" y="-16.5" width="7" height="33"/></g></g>
<g id="OsHIPP24"><text class="t" x="2698" y="2037">OsHIPP24</text><g transform="translate(0,2023)"><path class="l" d="M2963 0H3211"/><rect class="h" x="2983" y="-16.5" width="90" height="33"/><rect class="g" x="3208" y="-16.5" width="7" height="33"/></g></g>
<g id="OsHIPP49"><text class="t" x="2698" y="2086">OsHIPP49</text><g transform="translate(0,2074)"><path class="l" d="M2962 0H3225"/><rect class="h" x="2972" y="-16.5" width="95" height="33"/><rect class="g" x="3222" y="-16.5" width="7" height="33"/></g></g>
<g id="OsHIPP21"><text class="t" x="2698" y="2136">OsHIPP21</text><g transform="translate(0,2122)"><path class="l" d="M2962 0H3207"/><rect class="h" x="2978" y="-16.5" width="82" height="33"/><rect class="g" x="3204" y="-16.5" width="7" height="33"/></g></g>
<g id="OsHIPP20"><text class="t" x="2698" y="2185">OsHIPP20</text><g transform="translate(0,2174)"><path class="l" d="M2962 0H3176"/><rect class="h" x="2976" y="-16.5" width="80" height="33"/><rect class="g" x="3173" y="-16.5" width="7" height="33"/></g></g>
<g id="OsHIPP19"><text class="t" x="2698" y="2234">OsHIPP19</text><g transform="translate(0,2220)"><path class="l" d="M2962 0H3182"/><rect class="h" x="2974" y="-16.5" width="101" height="33"/><rect class="g" x="3179" y="-16.5" width="7" height="33"/></g></g>
<g id="OsHIPP16"><text class="t" x="2698" y="2284">OsHIPP16</text><g transform="translate(0,2269)"><path class="l" d="M2962 0H3202"/><rect class="h" x="2974" y="-16.5" width="104" height="33"/><rect class="g" x="3199" y="-16.5" width="7" height="33"/></g></g>
<g id="OsHIPP15"><text class="t" x="2698" y="2333">OsHIPP15</text><g transform="translate(0,2317)"><path class="l" d="M2961 0H3352"/><rect class="h" x="2977" y="-16.5" width="92" height="33"/><rect class="o" x="3146" y="-16.5" width="9" height="33"/><rect class="g" x="3349" y="-16.5" width="7" height="33"/></g></g>
<g id="OsHIPP13"><text class="t" x="2698" y="2382">OsHIPP13</text><g transform="translate(0,2371)"><path class="l" d="M2961 0H3407"/><rect class="h" x="2986" y="-16.5" width="90" height="33"/><rect class="o" x="3244" y="-16.5" width="10" height="33"/><rect class="g" x="3404" y="-16.5" width="7" height="33"/></g></g>
<g id="OsHIPP12"><text class="t" x="2698" y="2432">OsHIPP12</text><g transform="translate(0,2417)"><path class="l" d="M2961 0H3363"/><rect class="h" x="2972" y="-16.5" width="91" height="33"/><rect class="o" x="3121" y="-16.5" width="11" height="33"/><rect class="g" x="3360" y="-16.5" width="7" height="33"/></g></g>

<g id="legend">
<rect class="h" x="0" y="2388" width="49" height="48"/>
<text class="lg" x="70" y="2434">HMA 结构域</text>
<rect class="g" x="504" y="2388" width="49" height="48"/>
<text class="lg" x="569" y="2434">异戊二烯化基序</text>
<rect class="o" x="1086" y="2388" width="47" height="48"/>
<text class="lg" x="1154" y="2434">甘氨酸富集序列</text>
</g>
</svg>
